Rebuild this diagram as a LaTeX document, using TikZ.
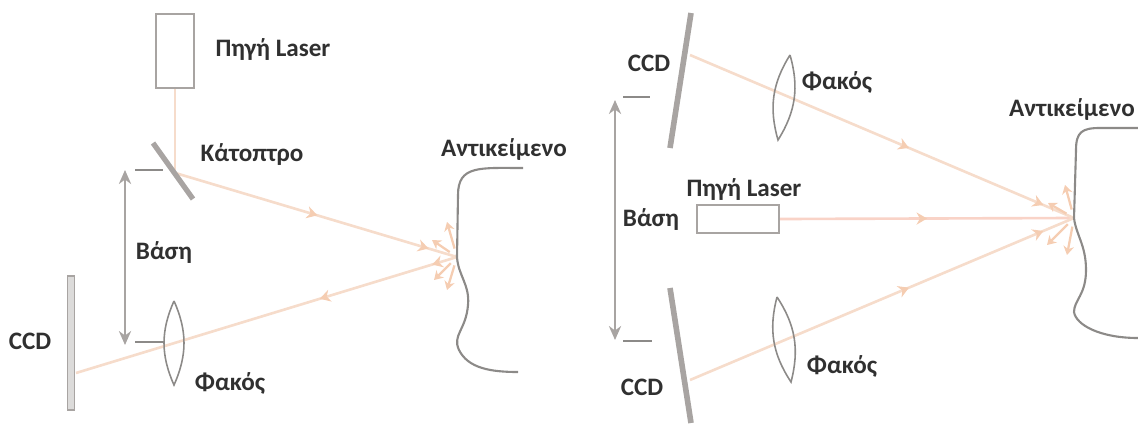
\documentclass[tikz,border=0pt]{standalone}
\usepackage{fontspec}
\setmainfont{Carlito}
\usetikzlibrary{calc,arrows.meta,decorations.markings}
\definecolor{raycol}{HTML}{F6DCCB}
\definecolor{tipcol}{HTML}{F5CDB2}
\definecolor{partcol}{HTML}{A8A4A2}
\definecolor{linecol}{HTML}{8C8A88}
\definecolor{textcol}{HTML}{303030}
\tikzset{
  lbl/.style={font=\bfseries\fontsize{14.3}{16}\selectfont,text=textcol,inner sep=0pt},
  box/.style={draw=partcol,line width=1.2pt,fill=white,inner sep=0pt},
  ray/.style={draw=raycol,line width=1.5pt},
  tipat/.style={postaction={decorate,decoration={markings,
    mark=at position #1 with {\arrow[tipcol,line width=0.6pt]{Stealth[length=6pt,width=7pt]}}}}},
  scatter/.style={tipcol,line width=1.3pt,shorten <=5pt,-{Stealth[length=5pt,width=6pt]}},
  plate/.style={draw=partcol,line width=#1},
  tick/.style={draw=linecol,line width=0.9pt},
  dim/.style={draw=partcol,line width=1pt,{Stealth[length=8pt,width=7pt]}-{Stealth[length=8pt,width=7pt]}},
  lens/.style={draw=linecol,line width=0.9pt},
  surf/.style={draw=linecol,line width=1.2pt}
}
\begin{document}
\begin{tikzpicture}[x=0.02cm,y=-0.02cm]
  \useasboundingbox (0,0) rectangle (1138,423);
  % left panel
  \coordinate (objL) at (457,257);
  \coordinate (mirL) at (172,172);
  \coordinate (mirLa) at (153,143);
  \coordinate (mirLb) at (193,199);
  \coordinate (ccdLhit) at (76,373);
  \node[box,minimum width=38*0.02cm,minimum height=74*0.02cm] (laserL) at (175,51) {};
  \draw[ray] (laserL.south) -- (laserL.south |- mirL);
  \draw[ray,tipat=0.51,tipat=0.9] (mirL) -- (objL);
  \draw[ray,tipat=0.36,tipat=0.065] (objL) -- (ccdLhit);
  \draw[plate=3pt] (mirLa) -- (mirLb);
  \node[draw=partcol,line width=1pt,fill=partcol!40,minimum width=7*0.02cm,minimum height=134*0.02cm,inner sep=0pt] (ccdL) at (71,343) {};
  \coordinate (lensLa) at (174,301);
  \coordinate (lensLb) at (174,385);
  \draw[lens] (lensLa) to[bend left=24] (lensLb) to[bend left=24] (lensLa);
  \coordinate (dimLa) at (125,170);
  \coordinate (dimLb) at (125,345);
  \draw[dim] (dimLa) -- (dimLb);
  \draw[tick] (135,170) -- (163,170);
  \draw[tick] (135,342) -- (165,342);
  \draw[surf] (523,168) .. controls (480,168) and (458,165) .. (458,195)
    -- (objL) .. controls (458,275) and (470,285) .. (468,305)
    .. controls (466,330) and (452,335) .. (459,350)
    .. controls (468,368) and (490,372) .. (518,372);
  \foreach \tipx/\tipy in {447/222,432/240,434/280,447/290}
    \draw[scatter] (objL) -- (\tipx,\tipy);
  \node[lbl] (srcL) at (273,50) {Πηγή Laser};
  \node[lbl] (mirLtxt) at (252,155) {Κάτοπτρο};
  \node[lbl] (objLtxt) at (504,150) {Αντικείμενο};
  \node[lbl] (baseL) at (164,253) {Βάση};
  \node[lbl] (ccdLtxt) at (30,341) {CCD};
  \node[lbl] (lensLtxt) at (230,383) {Φακός};
  % right panel
  \coordinate (objR) at (1074,218);
  \coordinate (ccdTa) at (691,13);
  \coordinate (ccdTb) at (670,148);
  \coordinate (ccdTh) at (690,55);
  \coordinate (ccdBa) at (670,288);
  \coordinate (ccdBb) at (691,423);
  \coordinate (ccdBh) at (690,380);
  \node[box,minimum width=82*0.02cm,minimum height=28*0.02cm] (laserR) at (738,219) {};
  \draw[ray,draw=raycol!70!pink,tipat=0.5] (laserR.east) -- (objR);
  \draw[ray,tipat=0.57,tipat=0.92] (ccdTh) -- (objR);
  \draw[ray,tipat=0.57,tipat=0.92] (ccdBh) -- (objR);
  \draw[plate=3.2pt] (ccdTa) -- (ccdTb);
  \draw[plate=3.2pt] (ccdBa) -- (ccdBb);
  \coordinate (lensTa) at (790,55);
  \coordinate (lensTb) at (778,140);
  \coordinate (lensBa) at (777,297);
  \coordinate (lensBb) at (791,382);
  \draw[lens] (lensTa) to[bend left=24] (lensTb) to[bend left=24] (lensTa);
  \draw[lens] (lensBa) to[bend left=24] (lensBb) to[bend left=24] (lensBa);
  \coordinate (dimRa) at (615,100);
  \coordinate (dimRb) at (615,340);
  \draw[dim] (dimRa) -- (dimRb);
  \draw[tick] (623,97) -- (650,97);
  \draw[tick] (623,341) -- (652,341);
  \draw[surf] (1138,128) -- (1100,128) .. controls (1082,128) and (1076,132) .. (1076,150)
    -- (objR) .. controls (1076,235) and (1086,245) .. (1086,270)
    .. controls (1086,295) and (1074,300) .. (1074,312)
    .. controls (1076,325) and (1100,338) .. (1138,338);
  \foreach \tipx/\tipy in {1065/185,1048/203,1047/245,1067/255}
    \draw[scatter] (objR) -- (\tipx,\tipy);
  \node[lbl] (srcR) at (744,190) {Πηγή Laser};
  \node[lbl] (objRtxt) at (1072,110) {Αντικείμενο};
  \node[lbl] (baseR) at (651,220) {Βάση};
  \node[lbl] (ccdTtxt) at (649,63) {CCD};
  \node[lbl] (ccdBtxt) at (642,387) {CCD};
  \node[lbl] (lensTtxt) at (837,82) {Φακός};
  \node[lbl] (lensBtxt) at (842,366) {Φακός};
\end{tikzpicture}
\end{document}
